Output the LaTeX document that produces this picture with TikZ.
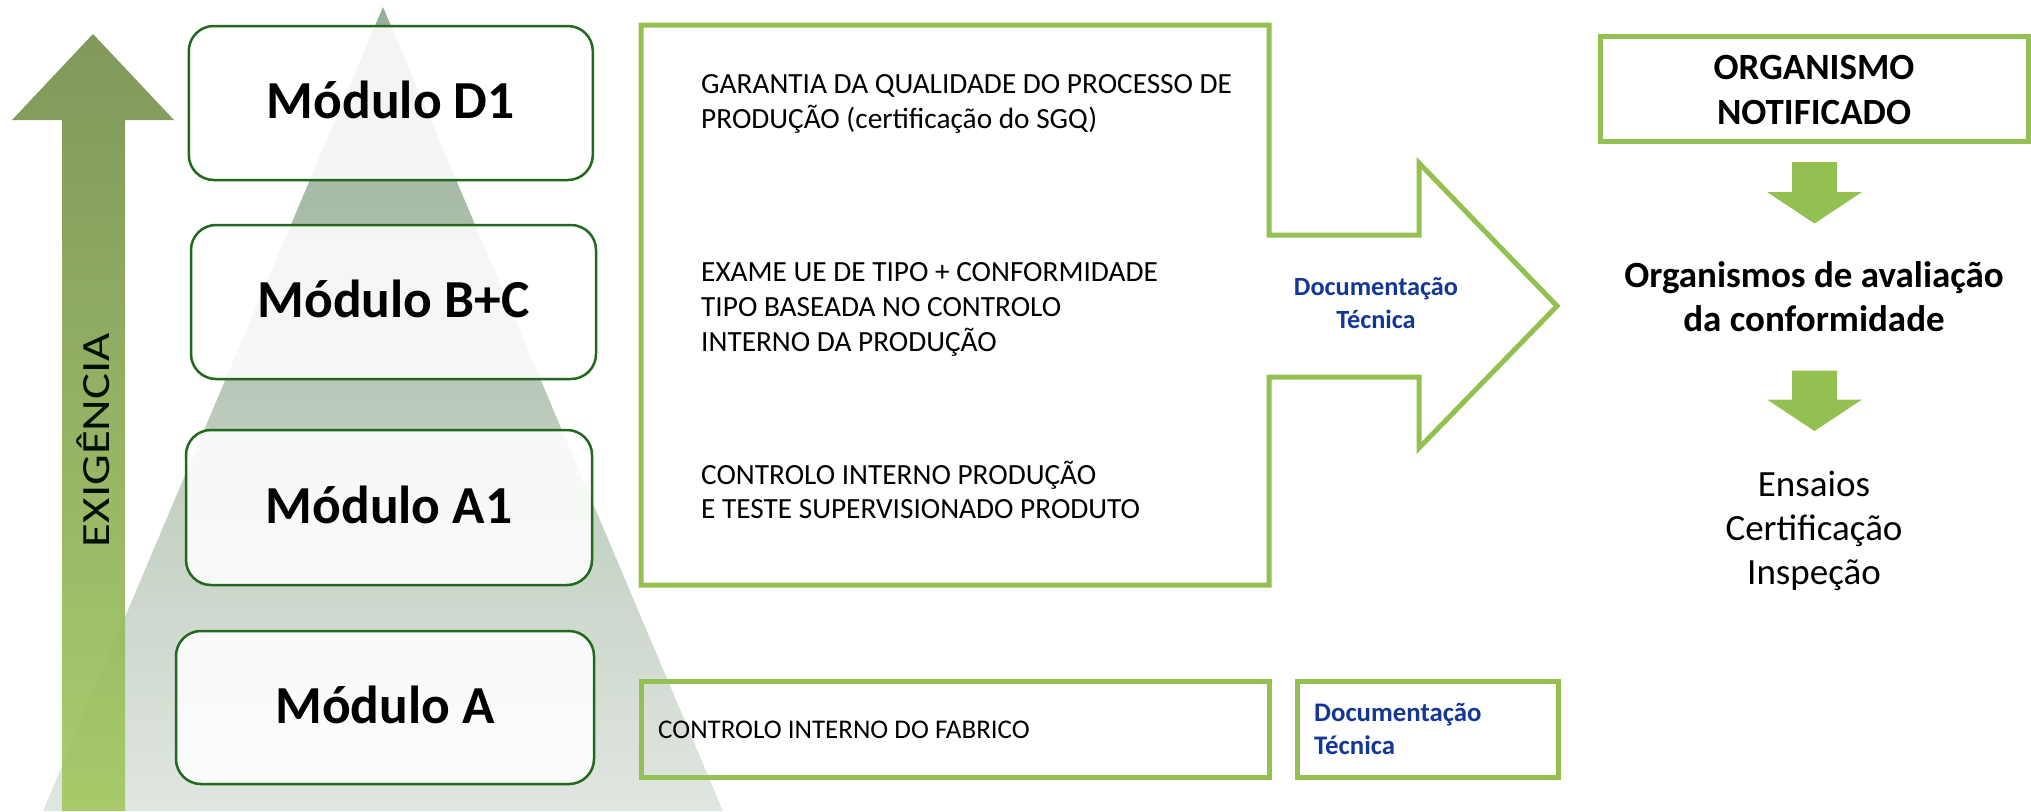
\documentclass[tikz,border=0pt]{standalone}
\usepackage{fontspec}
\setmainfont{Carlito}
\definecolor{lg}{RGB}{147,192,80}
\definecolor{dg}{RGB}{34,104,30}
\definecolor{tb}{RGB}{20,55,150}
\definecolor{pyrtop}{RGB}{151,173,151}
\definecolor{pyrmid}{RGB}{196,208,196}
\definecolor{pyrbot}{RGB}{224,230,224}
\definecolor{arrtop}{RGB}{119,144,78}
\definecolor{arrbot}{RGB}{163,200,98}
\tikzset{
 modbox/.style={draw=dg, line width=2.5pt, rounded corners=25pt, fill=white, fill opacity=0.88, text opacity=1, text height=31pt, text depth=0pt, font=\fontsize{53.5}{60}\selectfont\bfseries},
 lgbox/.style={draw=lg, line width=5pt},
 body/.style={anchor=base west, inner sep=0pt, font=\fontsize{29.3}{35}\selectfont},
 doc/.style={inner sep=0pt, text=tb, font=\fontsize{26.3}{32}\selectfont\bfseries},
 rt/.style={anchor=base, inner sep=0pt, font=\fontsize{37}{44}\selectfont\bfseries},
 rr/.style={anchor=base, inner sep=0pt, font=\fontsize{37}{44}\selectfont},
 blockarrow/.style={fill=lg},
}
\begin{document}
\begin{tikzpicture}[x=1pt,y=-1pt]
\useasboundingbox (0,0) rectangle (2031,811);
% pyramid
\shade[top color=pyrtop, middle color=pyrmid, bottom color=pyrbot] (383,7) -- (723,811) -- (43,811) -- cycle;
% exigencia arrow
\shade[top color=arrtop, bottom color=arrbot, opacity=0.93] (62,811) -- (62,120) -- (12,120) -- (93,34) -- (174,120) -- (125,120) -- (125,811) -- cycle;
\node[rotate=90, inner sep=0pt, text=black!85!green!40!black, font=\fontsize{40}{48}\selectfont] (exig) at (93,440) {\scalebox{1.22}[1]{EXIGÊNCIA}};
% module boxes
\node[modbox, minimum width=404pt, minimum height=154pt] (d1) at (390.8,103) {Módulo D1};
\node[modbox, minimum width=405pt, minimum height=154pt] (bc) at (393.5,302) {Módulo B+C};
\node[modbox, minimum width=406pt, minimum height=155pt] (a1) at (389,507.5) {Módulo A1};
\node[modbox, minimum width=418pt, minimum height=153pt] (ma) at (385,707.5) {Módulo A};
% big box with arrow
\draw[lgbox] (641,25) -- (1269,25) -- (1269,235) -- (1419,235) -- (1419,163) -- (1557,306) -- (1419,448) -- (1419,377) -- (1269,377) -- (1269,585) -- (641,585) -- cycle;
\node[body] (g1) at (701,93.8) {GARANTIA DA QUALIDADE DO PROCESSO DE};
\node[body] (g2) at (701,128.2) {PRODUÇÃO (certificação do SGQ)};
\node[body] (e1) at (701,281.3) {EXAME UE DE TIPO + CONFORMIDADE};
\node[body] (e2) at (701,316.9) {TIPO BASEADA NO CONTROLO};
\node[body] (e3) at (701,351.3) {INTERNO DA PRODUÇÃO};
\node[body] (c1) at (701,484.1) {CONTROLO INTERNO PRODUÇÃO};
\node[body] (c2) at (701,518.6) {E TESTE SUPERVISIONADO PRODUTO};
\node[doc, anchor=base] (dt1) at (1376,295.4) {Documentação};
\node[doc, anchor=base] (dt2) at (1376,328.4) {Técnica};
% bottom row
\node[lgbox, minimum width=628pt, minimum height=96pt] (fab) at (955,729) {};
\node[body, font=\fontsize{27}{32}\selectfont] (fabt) at (658,738.3) {CONTROLO INTERNO DO FABRICO};
\node[lgbox, minimum width=261pt, minimum height=96pt] (docb) at (1427.5,729) {};
\node[doc, anchor=base west, font=\fontsize{26.8}{32}\selectfont\bfseries] (db1) at (1314,721.7) {Documentação};
\node[doc, anchor=base west, font=\fontsize{26.8}{32}\selectfont\bfseries] (db2) at (1314,754) {Técnica};
% right column
\node[lgbox, minimum width=428pt, minimum height=105pt] (orgbox) at (1814,88.5) {};
\node[rt] (o1) at (1814,79) {ORGANISMO};
\node[rt] (o2) at (1814,124.5) {NOTIFICADO};
\fill[blockarrow] (1792,162) -- (1837,162) -- (1837,192) -- (1862,192) -- (1814.5,223.5) -- (1767,192) -- (1792,192) -- cycle;
\node[rt] (av1) at (1814,287.5) {Organismos de avaliação};
\node[rt] (av2) at (1814,331.4) {da conformidade};
\fill[blockarrow] (1792,370.5) -- (1837,370.5) -- (1837,399.5) -- (1862,399.5) -- (1814.5,431) -- (1767,399.5) -- (1792,399.5) -- cycle;
\node[rr] (r1) at (1814,496.2) {Ensaios};
\node[rr] (r2) at (1814,540.9) {Certificação};
\node[rr] (r3) at (1814,584) {Inspeção};
\end{tikzpicture}
\end{document}
